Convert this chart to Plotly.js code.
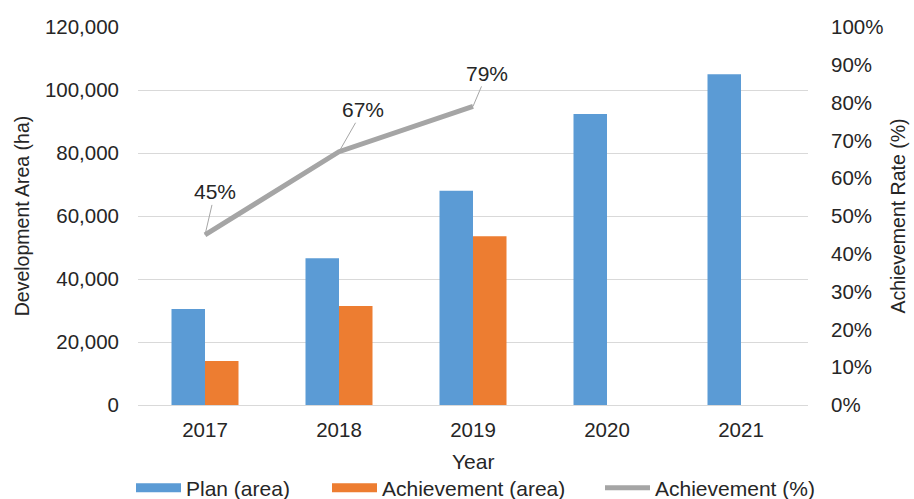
<!DOCTYPE html>
<html>
<head>
<meta charset="utf-8">
<script src="https://cdn.plot.ly/plotly-3.0.1.min.js"></script>
<style>html,body{margin:0;padding:0;background:#fff;}#chart{width:914px;height:499px;}</style>
</head>
<body>
<div id="chart"></div>
<script>
var years = ['2017', '2018', '2019', '2020', '2021'];
var planArea = [30500, 46600, 68000, 92400, 105000];
var achievementArea = [14000, 31400, 53600, null, null];
var achievementRate = [0.45, 0.67, 0.79];
var rateLabels = ['45%', '67%', '79%'];
var leftTicks = [0, 20000, 40000, 60000, 80000, 100000, 120000];
var leftTickText = ['0', '20,000', '40,000', '60,000', '80,000', '100,000', '120,000'];

var fam = 'Liberation Sans, Arial, sans-serif';
var col = '#262626';
var tickFont = {family: fam, size: 20.5, color: col};
var titleFont = {family: fam, size: 19.5, color: col};
var legFont = {family: fam, size: 21, color: col};

var traces = [
  {type: 'bar', name: 'Plan (area)', x: years, y: planArea, marker: {color: '#5b9bd5'}, showlegend: false},
  {type: 'bar', name: 'Achievement (area)', x: years, y: achievementArea, marker: {color: '#ed7d31'}, showlegend: false},
  {type: 'scatter', mode: 'lines', name: 'Achievement (%)', x: years.slice(0, 3), y: achievementRate, yaxis: 'y2',
   line: {color: '#a5a5a5', width: 5}, showlegend: false},
  // legend proxies (no visible marks)
  {type: 'scatter', mode: 'lines', name: 'Plan (area)', x: [years[0]], y: [null], line: {color: '#5b9bd5', width: 9}, legend: 'legend'},
  {type: 'scatter', mode: 'lines', name: 'Achievement (area)', x: [years[0]], y: [null], line: {color: '#ed7d31', width: 9}, legend: 'legend2'},
  {type: 'scatter', mode: 'lines', name: 'Achievement (%)', x: [years[0]], y: [null], line: {color: '#a5a5a5', width: 5}, legend: 'legend3'}
];

var offsets = [[10, -43], [24, -42], [14, -33]];
var annotations = rateLabels.map(function (t, i) {
  return {x: i, y: achievementRate[i], xref: 'x', yref: 'y2', text: t, showarrow: true,
    arrowhead: 0, arrowwidth: 1, arrowcolor: '#a6a6a6', ax: offsets[i][0], ay: offsets[i][1],
    font: legFont};
});
// x-axis title
annotations.push({text: 'Year', xref: 'paper', yref: 'paper', x: 0.5, y: -57 / 378, yanchor: 'middle',
  showarrow: false, font: legFont});

function leg(px) {
  return {orientation: 'h', xref: 'container', yref: 'container', x: px / 914, xanchor: 'left',
    y: 0.022, yanchor: 'middle', font: legFont, itemwidth: 45};
}

var layout = {
  width: 914, height: 499,
  margin: {l: 138, r: 106, t: 27, b: 94},
  paper_bgcolor: '#fff', plot_bgcolor: '#fff',
  font: tickFont,
  barmode: 'group', bargap: 0.5, bargroupgap: 0,
  showlegend: true,
  legend: leg(131), legend2: leg(327), legend3: leg(600),
  xaxis: {type: 'category', range: [-0.5, 4.5], showgrid: false, showline: false, ticks: '', tickfont: tickFont,
    automargin: false, ticklabelstandoff: 10},
  yaxis: {range: [0, 120000], tickvals: leftTicks, ticktext: leftTickText, showgrid: true,
    gridcolor: '#d9d9d9', gridwidth: 1, zeroline: true, zerolinecolor: '#d9d9d9', showline: false,
    tickfont: tickFont, ticks: '', automargin: false, ticklabelstandoff: 18,
    title: {text: 'Development Area (ha)', font: titleFont, standoff: 10}},
  yaxis2: {overlaying: 'y', side: 'right', range: [0, 1], dtick: 0.1, tickformat: '.0%', showgrid: false,
    zeroline: false, showline: false, tickfont: tickFont, automargin: false, ticklabelstandoff: 22,
    title: {text: 'Achievement Rate (%)', font: titleFont, standoff: 8}},
  annotations: annotations
};

Plotly.newPlot('chart', traces, layout, {displayModeBar: false, staticPlot: true});
</script>
</body>
</html>
